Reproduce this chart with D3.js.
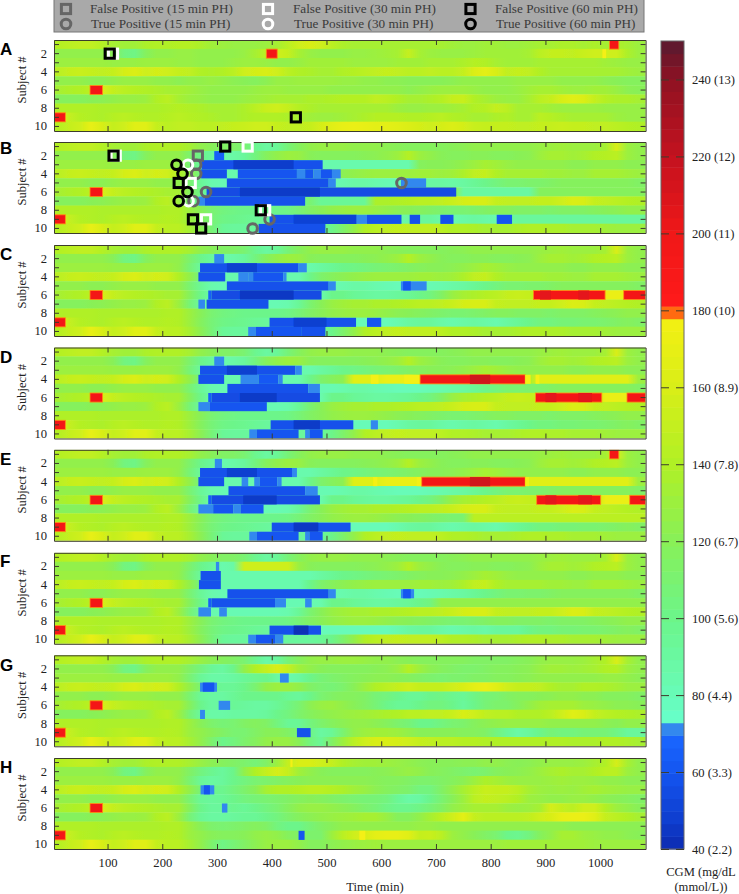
<!DOCTYPE html>
<html>
<head>
<meta charset="utf-8">
<style>
  html, body { margin: 0; padding: 0; background: #fff; }
  svg { display: block; }
  text { font-family: "Liberation Serif", serif; fill: #222; }
  .letter { font-family: "Liberation Sans", sans-serif; font-weight: bold; font-size: 17px; fill: #000; }
  .axis path, .axis line { stroke: #3c3c2c; }
  .axis text { font-size: 12.6px; }
</style>
<script src="https://cdn.jsdelivr.net/npm/d3@7"></script>
</head>
<body>
<div id="chart"></div>
<script>
// ---- data ----------------------------------------------------------------
var panelNames = ['A', 'B', 'C', 'D', 'E', 'F', 'G', 'H'];
var subjects = [1, 2, 3, 4, 5, 6, 7, 8, 9, 10];
var timeTicks = [100, 200, 300, 400, 500, 600, 700, 800, 900, 1000];
var colorTicks = [40, 60, 80, 100, 120, 140, 160, 180, 200, 220, 240];
var colorTickLabels = ['40 (2.2)', '60 (3.3)', '80 (4.4)', '100 (5.6)', '120 (6.7)', '140 (7.8)', '160 (8.9)', '180 (10)', '200 (11)', '220 (12)', '240 (13)'];

var colorStops = [40, 48, 60, 69, 69.01, 72.4, 72.41, 80, 100, 120, 140, 160, 178, 178.01, 181, 181.01, 200, 220, 240, 250];
var colorValues = ['#0d2bb0', '#0f3fd0', '#1455f0', '#1a66ff', '#3388ee', '#3388ee', '#66ffcc', '#68fbb8', '#6cf58a', '#88f058', '#b0f025', '#d8ee18', '#f4f012', '#ff6a10', '#ff6a10', '#ff1a1a', '#f01818', '#c4121f', '#8f1222', '#581a30'];

// CGM per subject, one value every 20 min: t = 0..200, the same in every panel
var early = [
  [142, 145, 148, 148, 142, 135, 132, 132, 138, 140, 140],
  [125, 125, 125, 125, 125, 120, 105, 102, 118, 125, 125],
  [130, 130, 130, 130, 130, 128, 128, 128, 130, 130, 130],
  [145, 150, 152, 150, 148, 150, 158, 162, 155, 158, 155],
  [125, 125, 125, 122, 122, 125, 128, 128, 128, 125, 125],
  [135, 138, 140, 145, 160, 150, 145, 142, 140, 138, 135],
  [118, 118, 118, 120, 122, 125, 128, 128, 130, 140, 145],
  [140, 140, 140, 140, 138, 138, 138, 138, 138, 138, 140],
  [170, 150, 142, 140, 138, 142, 145, 142, 140, 140, 142],
  [142, 150, 155, 170, 160, 150, 155, 165, 165, 150, 145]
];

// t = 220..1060, panel A
var tailA = [
  [142, 142, 138, 132, 130, 128, 128, 128, 130, 135, 145, 155, 160, 155, 145, 138, 135, 135, 135, 135, 135, 135, 135, 135, 135, 132, 130, 130, 132, 132, 130, 130, 132, 135, 135, 138, 138, 135, 138, 135, 138, 135, 130],
  [128, 128, 125, 125, 125, 125, 128, 135, 145, 155, 150, 135, 128, 125, 125, 125, 128, 128, 130, 132, 135, 150, 135, 130, 128, 128, 128, 130, 132, 132, 132, 132, 135, 145, 150, 150, 148, 152, 155, 155, 155, 138, 130],
  [128, 128, 125, 125, 125, 128, 130, 130, 128, 125, 125, 128, 132, 132, 132, 132, 130, 130, 130, 130, 132, 132, 132, 135, 135, 135, 138, 142, 140, 135, 132, 132, 132, 135, 135, 135, 135, 135, 135, 132, 130, 128, 128],
  [150, 148, 140, 138, 140, 145, 155, 158, 160, 155, 145, 140, 138, 135, 135, 140, 142, 145, 148, 150, 148, 145, 145, 148, 145, 145, 150, 162, 168, 160, 148, 150, 148, 140, 135, 135, 135, 135, 135, 135, 135, 132, 130],
  [122, 125, 125, 128, 125, 122, 120, 118, 122, 128, 128, 130, 130, 130, 130, 128, 128, 125, 125, 122, 122, 120, 120, 120, 120, 122, 125, 125, 125, 125, 125, 128, 128, 128, 128, 125, 125, 125, 125, 122, 120, 118, 118],
  [135, 132, 128, 125, 125, 125, 125, 128, 130, 130, 128, 128, 128, 128, 125, 125, 125, 125, 125, 125, 125, 122, 125, 128, 130, 130, 130, 128, 125, 125, 125, 128, 132, 135, 135, 132, 130, 130, 132, 132, 128, 122, 120],
  [135, 130, 128, 125, 125, 125, 128, 130, 132, 135, 135, 135, 138, 138, 140, 142, 142, 142, 148, 145, 140, 135, 135, 138, 142, 150, 152, 140, 135, 130, 128, 128, 135, 145, 150, 160, 165, 162, 150, 142, 138, 138, 135],
  [142, 140, 138, 135, 135, 135, 138, 145, 152, 155, 150, 142, 138, 135, 135, 135, 135, 135, 135, 135, 130, 128, 128, 130, 130, 132, 135, 140, 142, 150, 145, 135, 135, 135, 132, 130, 130, 130, 130, 128, 128, 128, 128],
  [145, 142, 140, 138, 135, 135, 138, 140, 140, 140, 138, 135, 132, 130, 130, 132, 135, 138, 142, 142, 142, 140, 140, 142, 145, 140, 138, 135, 135, 138, 140, 135, 135, 145, 142, 138, 135, 135, 135, 135, 130, 128, 128],
  [148, 148, 145, 145, 148, 150, 152, 155, 155, 150, 148, 148, 150, 158, 165, 170, 172, 170, 168, 168, 165, 162, 158, 155, 158, 162, 158, 152, 150, 150, 150, 148, 148, 150, 150, 152, 150, 150, 148, 148, 145, 142, 140]
];

// t = 220..1060, panels B to F
var tailC = [
  [140, 135, 125, 120, 115, 115, 110, 98, 90, 95, 108, 118, 125, 128, 128, 128, 125, 125, 125, 122, 120, 118, 118, 118, 118, 120, 122, 125, 125, 125, 125, 125, 125, 128, 130, 132, 130, 130, 130, 135, 160, 130, 125],
  [125, 112, 100, 92, 85, 88, 92, 105, 118, 125, 130, 128, 120, 118, 118, 118, 118, 120, 122, 125, 130, 142, 130, 125, 120, 118, 118, 120, 120, 118, 118, 120, 122, 130, 135, 135, 132, 135, 140, 142, 145, 130, 125],
  [125, 108, 92, 85, 85, 85, 85, 85, 85, 85, 85, 85, 85, 90, 95, 100, 102, 105, 108, 110, 112, 115, 118, 120, 120, 122, 125, 130, 135, 132, 128, 125, 125, 125, 125, 125, 122, 122, 125, 125, 125, 122, 122],
  [140, 125, 105, 92, 85, 85, 85, 85, 85, 85, 85, 85, 100, 112, 118, 122, 125, 128, 130, 130, 130, 130, 132, 132, 130, 132, 138, 148, 150, 140, 135, 135, 135, 135, 132, 132, 130, 130, 135, 135, 135, 132, 130],
  [125, 110, 95, 85, 82, 82, 82, 82, 82, 82, 82, 82, 82, 82, 82, 85, 88, 88, 85, 82, 80, 80, 80, 82, 85, 88, 90, 95, 100, 105, 110, 110, 112, 112, 115, 118, 118, 118, 118, 118, 118, 118, 115],
  [135, 118, 100, 88, 82, 82, 82, 82, 82, 82, 82, 82, 82, 85, 100, 100, 95, 92, 90, 90, 92, 95, 100, 105, 115, 128, 135, 138, 142, 145, 150, 152, 150, 150, 150, 150, 150, 150, 150, 150, 150, 150, 150],
  [130, 108, 92, 85, 82, 82, 82, 82, 82, 82, 85, 95, 110, 120, 128, 132, 135, 135, 138, 138, 140, 142, 145, 145, 148, 152, 158, 160, 160, 150, 148, 148, 148, 150, 150, 155, 162, 160, 150, 148, 145, 142, 140],
  [140, 130, 120, 110, 105, 102, 100, 100, 100, 100, 102, 108, 115, 120, 125, 128, 130, 130, 128, 125, 122, 120, 118, 115, 112, 110, 110, 112, 115, 118, 118, 115, 115, 115, 112, 115, 115, 115, 118, 120, 122, 125, 125],
  [140, 130, 118, 108, 102, 100, 98, 95, 92, 90, 88, 85, 82, 80, 80, 80, 80, 80, 80, 80, 85, 90, 92, 92, 88, 85, 88, 90, 88, 85, 90, 95, 100, 105, 105, 108, 108, 110, 110, 112, 115, 118, 115],
  [145, 135, 122, 108, 95, 92, 92, 92, 92, 92, 92, 92, 92, 95, 100, 112, 125, 140, 145, 148, 150, 148, 148, 148, 145, 140, 140, 138, 135, 135, 135, 138, 140, 140, 138, 138, 135, 135, 135, 132, 130, 130, 130]
];

// t = 220..1060, panel G
var tailG = [
  [140, 135, 128, 122, 118, 115, 110, 98, 88, 92, 108, 118, 125, 128, 128, 130, 130, 128, 125, 125, 122, 120, 118, 118, 118, 118, 118, 115, 115, 115, 115, 118, 120, 125, 128, 128, 128, 130, 135, 140, 160, 135, 125],
  [125, 115, 105, 95, 90, 100, 125, 140, 150, 160, 150, 132, 125, 120, 118, 118, 118, 118, 120, 122, 128, 142, 130, 122, 118, 115, 112, 112, 115, 118, 118, 120, 122, 128, 132, 132, 130, 132, 135, 140, 142, 130, 125],
  [125, 110, 95, 88, 88, 90, 95, 98, 100, 90, 85, 90, 100, 108, 112, 115, 118, 120, 122, 122, 120, 118, 115, 112, 110, 112, 112, 115, 115, 118, 118, 120, 122, 125, 125, 125, 125, 125, 125, 128, 128, 125, 122],
  [140, 125, 110, 100, 95, 95, 100, 110, 125, 130, 130, 125, 115, 110, 108, 112, 120, 130, 140, 145, 150, 155, 150, 150, 150, 155, 160, 168, 172, 165, 155, 150, 150, 148, 140, 135, 135, 140, 140, 138, 135, 130, 130],
  [125, 110, 95, 90, 90, 95, 100, 100, 100, 100, 95, 92, 100, 110, 115, 118, 118, 115, 108, 105, 100, 95, 95, 100, 102, 98, 95, 102, 108, 110, 115, 118, 118, 120, 122, 125, 125, 122, 122, 118, 118, 118, 115],
  [135, 118, 100, 90, 90, 95, 92, 90, 90, 95, 102, 110, 122, 128, 130, 125, 120, 115, 108, 100, 95, 95, 100, 105, 105, 100, 92, 100, 108, 112, 112, 118, 125, 132, 135, 135, 135, 130, 128, 125, 122, 122, 120],
  [130, 108, 92, 88, 88, 90, 90, 90, 92, 100, 105, 112, 118, 122, 125, 128, 130, 132, 135, 138, 140, 145, 145, 148, 148, 152, 160, 155, 148, 145, 145, 140, 140, 140, 145, 155, 165, 160, 150, 145, 142, 140, 138],
  [140, 130, 120, 112, 108, 110, 115, 118, 115, 105, 95, 95, 105, 112, 118, 122, 125, 125, 122, 118, 112, 108, 100, 100, 105, 110, 112, 118, 122, 125, 128, 128, 128, 128, 125, 125, 125, 125, 125, 122, 120, 125, 125],
  [140, 130, 125, 120, 115, 110, 110, 115, 120, 120, 115, 108, 102, 90, 95, 110, 125, 130, 132, 132, 130, 125, 120, 120, 120, 120, 118, 118, 115, 105, 95, 88, 92, 100, 108, 105, 105, 108, 108, 108, 102, 92, 92],
  [145, 135, 125, 112, 100, 105, 112, 118, 125, 128, 128, 120, 105, 95, 115, 130, 145, 155, 160, 160, 158, 155, 150, 148, 145, 145, 142, 142, 140, 140, 140, 140, 140, 140, 140, 140, 138, 138, 138, 140, 140, 138, 135]
];

// t = 220..1060, panel H
var tailH = [
  [140, 135, 128, 122, 118, 115, 112, 108, 115, 130, 150, 160, 160, 155, 150, 140, 135, 132, 132, 130, 128, 125, 122, 120, 120, 120, 122, 122, 125, 125, 122, 120, 122, 125, 128, 128, 128, 130, 135, 140, 158, 135, 125],
  [125, 115, 105, 98, 92, 100, 125, 140, 150, 158, 150, 132, 125, 120, 118, 118, 118, 118, 120, 122, 125, 128, 125, 120, 118, 115, 112, 110, 112, 118, 120, 122, 125, 130, 135, 138, 135, 135, 140, 145, 145, 130, 125],
  [125, 110, 95, 90, 92, 100, 105, 110, 112, 115, 118, 120, 122, 122, 122, 122, 122, 122, 120, 118, 118, 115, 112, 112, 115, 118, 122, 130, 138, 135, 130, 128, 128, 128, 130, 132, 130, 130, 128, 125, 125, 122, 122],
  [140, 125, 108, 100, 98, 105, 112, 120, 135, 140, 140, 142, 145, 145, 142, 138, 132, 128, 122, 118, 115, 112, 105, 105, 115, 125, 135, 145, 152, 150, 150, 145, 135, 130, 128, 130, 128, 132, 135, 132, 130, 128, 128],
  [125, 110, 95, 92, 95, 100, 105, 108, 110, 112, 115, 118, 120, 118, 115, 112, 110, 108, 108, 105, 95, 88, 90, 100, 110, 120, 130, 145, 150, 148, 145, 140, 130, 128, 125, 125, 128, 128, 125, 122, 120, 118, 115],
  [135, 118, 100, 92, 92, 98, 95, 100, 105, 110, 118, 125, 128, 128, 125, 122, 118, 112, 108, 102, 98, 98, 102, 108, 115, 125, 130, 135, 135, 135, 130, 128, 130, 135, 158, 150, 145, 155, 155, 140, 130, 125, 120],
  [130, 108, 95, 90, 90, 92, 95, 95, 100, 105, 112, 118, 122, 125, 128, 130, 132, 135, 135, 128, 118, 118, 125, 135, 145, 155, 168, 150, 145, 145, 145, 145, 148, 155, 160, 170, 172, 172, 165, 150, 145, 140, 135],
  [140, 130, 120, 112, 110, 112, 115, 118, 115, 105, 100, 100, 108, 115, 120, 125, 125, 125, 125, 125, 125, 125, 128, 128, 125, 125, 125, 125, 125, 125, 125, 125, 125, 125, 125, 125, 122, 122, 122, 122, 122, 122, 122],
  [140, 130, 125, 120, 118, 118, 120, 125, 128, 125, 118, 115, 112, 112, 130, 145, 155, 160, 168, 170, 170, 165, 150, 152, 145, 130, 125, 120, 115, 110, 100, 98, 105, 118, 125, 135, 135, 130, 128, 125, 125, 122, 120],
  [145, 135, 125, 112, 102, 108, 115, 122, 128, 130, 130, 125, 118, 118, 122, 125, 128, 130, 132, 130, 130, 130, 130, 130, 130, 130, 130, 130, 130, 130, 132, 132, 132, 132, 132, 132, 132, 132, 130, 130, 130, 130, 130]
];

// smooth changes to a tail: [subject, from, to, value]
var softB = [[6, 740, 860, 90], [6, 880, 1060, 118], [9, 840, 1060, 92], [5, 640, 700, 90], [3, 480, 640, 85], [7, 480, 560, 95]];
var softC = [[6, 1000, 1040, 172]];
var softD = [[4, 540, 580, 165], [4, 600, 640, 172], [4, 880, 1040, 165], [6, 1000, 1040, 172]];
var softE = [[4, 540, 580, 165], [4, 600, 660, 172], [4, 860, 1040, 165], [6, 1000, 1040, 172], [8, 760, 1060, 145]];
var softF = [[2, 340, 420, 155], [6, 700, 1060, 125], [9, 800, 840, 92]];

// hard edged runs: [subject, start min, end min, value]
var spikes = [[6, 68, 91, 195], [9, 2, 23, 195]];
var blocksA = [[2, 390, 410, 195], [1, 1017, 1034, 195], [2, 1004, 1011, 178]];
var blocksB = [
  [2, 295, 313, 65], [3, 272, 493, 58], [3, 330, 440, 47], [4, 271, 318, 58], [4, 338, 446, 60], [4, 446, 461, 70], [4, 461, 476, 60], [4, 476, 490, 70], [4, 490, 510, 60], [4, 510, 526, 70],
  [5, 318, 504, 58], [5, 504, 517, 70], [5, 636, 682, 70], [6, 281, 737, 55], [6, 342, 488, 46], [7, 266, 278, 70], [7, 278, 461, 58],
  [9, 396, 555, 58], [9, 440, 555, 50], [9, 555, 574, 70], [9, 574, 637, 58], [9, 652, 671, 58], [9, 708, 732, 58], [9, 811, 839, 60], [10, 376, 498, 58]
];
var blocksC = [
  [2, 295, 313, 71], [3, 269, 449, 58], [3, 318, 373, 48], [3, 449, 464, 71], [4, 266, 315, 58], [4, 339, 357, 70], [4, 357, 366, 71], [4, 366, 421, 60], [4, 421, 427, 71],
  [5, 318, 504, 58], [5, 504, 517, 71], [5, 636, 683, 70], [5, 640, 654, 60], [6, 284, 290, 65], [6, 290, 491, 55], [6, 342, 440, 45], [7, 266, 278, 70], [7, 281, 394, 58],
  [9, 396, 554, 58], [9, 440, 500, 48], [9, 574, 600, 60], [10, 357, 371, 70], [10, 371, 455, 60], [10, 455, 498, 58],
  [6, 878, 1009, 195], [6, 890, 910, 205], [6, 960, 980, 205], [6, 1043, 1083, 195]
];
var blocksD = [
  [2, 295, 313, 71], [3, 269, 443, 58], [3, 318, 373, 48], [3, 443, 455, 71], [4, 266, 313, 58], [4, 343, 376, 71], [4, 376, 412, 62], [4, 412, 420, 71],
  [5, 319, 467, 58], [5, 467, 488, 71], [6, 284, 290, 65], [6, 290, 488, 55], [6, 342, 409, 46], [7, 266, 287, 70], [7, 287, 391, 60],
  [9, 398, 549, 58], [9, 440, 488, 46], [9, 581, 594, 70], [10, 359, 373, 70], [10, 373, 449, 60], [10, 461, 469, 70], [10, 469, 493, 60],
  [4, 581, 595, 178], [4, 642, 671, 178], [4, 671, 863, 195], [4, 762, 799, 215], [4, 863, 873, 178], [4, 882, 889, 178], [6, 882, 1003, 195], [6, 900, 920, 205], [6, 960, 985, 205], [6, 1049, 1083, 195]
];
var blocksE = [
  [2, 296, 309, 71], [3, 269, 437, 58], [3, 318, 373, 48], [3, 437, 446, 71], [4, 266, 313, 58], [4, 345, 357, 70], [4, 368, 378, 71], [4, 378, 410, 60], [4, 410, 418, 71],
  [5, 321, 461, 58], [5, 461, 484, 71], [6, 284, 290, 65], [6, 290, 488, 55], [6, 348, 409, 46], [7, 266, 293, 71], [7, 293, 330, 60], [7, 330, 343, 71], [7, 343, 385, 60],
  [9, 400, 544, 58], [9, 440, 485, 45], [10, 359, 373, 70], [10, 373, 449, 60], [10, 461, 469, 70], [10, 469, 493, 60],
  [1, 1017, 1034, 195], [4, 585, 593, 178], [4, 665, 674, 178], [4, 674, 863, 195], [4, 762, 799, 215], [4, 863, 870, 178], [6, 884, 1001, 195], [6, 900, 920, 205], [6, 960, 985, 205], [6, 1054, 1083, 195]
];
var blocksF = [
  [2, 298, 304, 70], [3, 270, 307, 58], [4, 267, 307, 58], [5, 319, 504, 58], [5, 504, 517, 71], [5, 636, 660, 70], [5, 640, 654, 60],
  [6, 284, 290, 65], [6, 290, 406, 58], [6, 406, 426, 71], [6, 461, 473, 70], [7, 266, 289, 71], [7, 304, 318, 70],
  [9, 396, 490, 58], [9, 440, 467, 42], [10, 357, 371, 70], [10, 371, 406, 60], [10, 406, 421, 70]
];
var blocksG = [[3, 415, 431, 71], [4, 269, 300, 70], [4, 274, 295, 60], [6, 303, 324, 70], [7, 269, 278, 70], [9, 446, 471, 58]];
var blocksH = [[1, 434, 438, 178], [4, 270, 295, 70], [4, 276, 287, 60], [6, 309, 319, 70], [9, 449, 460, 60], [9, 560, 571, 178]];

// warning markers: [time, subject]
var fp15B = [[265, 2]];
var tp15B = [[262, 3], [262, 4], [280, 6], [257, 7], [396, 9], [365, 10], [637, 5]];
var fp30A = [[110, 2]];
var fp30B = [[115, 2], [356, 1], [252, 5], [388, 8], [280, 9]];
var tp30B = [[247, 3], [248, 7]];
var fp60A = [[104, 2], [444, 9]];
var fp60B = [[111, 2], [315, 1], [230, 5], [380, 8], [256, 9], [271, 10]];
var tp60B = [[226, 3], [237, 4], [246, 6], [230, 7]];

var legendLabels = [
  ['False Positive (15 min PH)', 'False Positive (30 min PH)', 'False Positive (60 min PH)'],
  ['True Positive (15 min PH)', 'True Positive (30 min PH)', 'True Positive (60 min PH)']
];
var legendColors = ['#666666', '#ffffff', '#000000'];

// ---- layout --------------------------------------------------------------
var width = 739, height = 894;
var plotLeft = 54, plotRight = 645.6, rowsHeight = 91;
var panelTops = [40, 142, 245, 347.5, 449.8, 552.8, 655.3, 758];
var letterOffsets = [15, 11.5, 15, 15, 15.5, 14, 16, 15];

var allTimes = d3.range(0, 1061, 20);

var x = d3.scaleLinear().domain([2.2, 1083]).range([plotLeft, plotRight]);
var color = d3.scaleLinear().domain(colorStops).range(colorValues).clamp(true);
var colorY = d3.scaleLinear().domain([40, 250]).range([849, 41]);

var svg = d3.select('#chart').append('svg').attr('width', width).attr('height', height);
var defs = svg.append('defs');
defs.append('filter').attr('id', 'soft').attr('x', '-1%').attr('y', '-5%').attr('width', '102%').attr('height', '110%')
  .append('feGaussianBlur').attr('stdDeviation', 0.45);

function buildRows(tail, soft) {
  return subjects.map(function(s, i) {
    var row = early[i].concat(tail[i]);
    (soft || []).forEach(function(p) {
      if (p[0] !== s) return;
      allTimes.forEach(function(t, j) {
        if (t >= p[1] && t <= p[2]) row[j] = p[3];
      });
    });
    return row;
  });
}

var panels = [
  { rows: buildRows(tailA), blocks: blocksA },
  { rows: buildRows(tailC, softB), blocks: blocksB },
  { rows: buildRows(tailC, softC), blocks: blocksC },
  { rows: buildRows(tailC, softD), blocks: blocksD },
  { rows: buildRows(tailC, softE), blocks: blocksE },
  { rows: buildRows(tailC, softF), blocks: blocksF },
  { rows: buildRows(tailG), blocks: blocksG },
  { rows: buildRows(tailH), blocks: blocksH }
];

function drawPanel(panel, i) {
  var top = panelTops[i];
  var y = d3.scaleBand().domain(subjects).range([top, top + rowsHeight]);
  var g = svg.append('g');

  defs.append('clipPath').attr('id', 'clip' + i).append('rect')
    .attr('x', plotLeft).attr('y', top).attr('width', plotRight - plotLeft).attr('height', rowsHeight);

  var heat = g.append('g').attr('clip-path', 'url(#clip' + i + ')').append('g').attr('filter', 'url(#soft)');

  // one gradient strip for each subject
  panel.rows.forEach(function(row, r) {
    var id = 'grad' + i + '_' + r;
    var grad = defs.append('linearGradient').attr('id', id).attr('gradientUnits', 'userSpaceOnUse')
      .attr('x1', x(0)).attr('x2', x(1080)).attr('y1', 0).attr('y2', 0);
    grad.selectAll('stop').data(row).join('stop')
      .attr('offset', function(d, j) { return (allTimes[j] + 10) / 1080; })
      .attr('stop-color', function(d) { return color(d); });
    heat.append('rect')
      .attr('x', plotLeft - 2).attr('y', y(subjects[r]) - 0.2)
      .attr('width', plotRight - plotLeft + 4).attr('height', y.bandwidth() + 0.4)
      .attr('fill', 'url(#' + id + ')');
  });

  heat.selectAll('rect.block').data(spikes.concat(panel.blocks)).join('rect')
    .attr('class', 'block')
    .attr('x', function(d) { return x(d[1]); })
    .attr('y', function(d) { return y(d[0]); })
    .attr('width', function(d) { return x(d[2]) - x(d[1]); })
    .attr('height', y.bandwidth())
    .attr('fill', function(d) { return color(d[3]); })
    .attr('stroke', function(d) { return d[3] === 195 ? '#ff8c12' : 'none'; })
    .attr('stroke-width', 0.8);

  var isLast = i === panelNames.length - 1;
  var bottomAxis = d3.axisBottom(x).tickValues(timeTicks).tickSize(-5).tickSizeOuter(0).tickPadding(9).tickFormat(d3.format('d'));
  if (!isLast) bottomAxis.tickFormat('');
  g.append('g').attr('class', 'axis').attr('transform', 'translate(0,' + (top + rowsHeight) + ')').call(bottomAxis);
  g.append('g').attr('class', 'axis').attr('transform', 'translate(0,' + top + ')')
    .call(d3.axisTop(x).tickValues(timeTicks).tickSize(-5).tickSizeOuter(0).tickFormat(''));
  g.append('g').attr('class', 'axis').attr('transform', 'translate(' + plotLeft + ',0)')
    .call(d3.axisLeft(y).tickSize(-5).tickSizeOuter(0).tickPadding(7)
      .tickFormat(function(d) { return d % 2 === 0 ? d : ''; }));
  g.append('g').attr('class', 'axis').attr('transform', 'translate(' + plotRight + ',0)')
    .call(d3.axisRight(y).tickSize(-5).tickSizeOuter(0).tickFormat(''));

  g.append('text').attr('class', 'letter').attr('x', 0).attr('y', top + letterOffsets[i]).text(panelNames[i]);
  g.append('text').attr('transform', 'translate(26,' + (top + 40) + ') rotate(-90)')
    .attr('text-anchor', 'middle').attr('font-size', 12.6).text('Subject #');
  return y;
}

var yScales = panels.map(drawPanel);

// ---- markers -------------------------------------------------------------
function drawMarker(parent, kind, cx, cy, col) {
  if (kind === 'square') {
    parent.append('rect').attr('x', cx - 4.6).attr('y', cy - 4.6).attr('width', 9.2).attr('height', 9.2)
      .attr('fill', 'none').attr('stroke', col).attr('stroke-width', 3);
  } else {
    parent.append('circle').attr('cx', cx).attr('cy', cy).attr('r', 4.8)
      .attr('fill', 'none').attr('stroke', col).attr('stroke-width', 3);
  }
}

function drawMarkers(list, panelIndex, kind, col) {
  var y = yScales[panelIndex];
  var g = svg.append('g');
  list.forEach(function(m) {
    drawMarker(g, kind, x(m[0]), y(m[1]) + y.bandwidth() / 2, col);
  });
}

drawMarkers(fp30A, 0, 'square', legendColors[1]);
drawMarkers(fp60A, 0, 'square', legendColors[2]);
drawMarkers(tp15B, 1, 'circle', legendColors[0]);
drawMarkers(fp15B, 1, 'square', legendColors[0]);
drawMarkers(tp30B, 1, 'circle', legendColors[1]);
drawMarkers(fp30B, 1, 'square', legendColors[1]);
drawMarkers(tp60B, 1, 'circle', legendColors[2]);
drawMarkers(fp60B, 1, 'square', legendColors[2]);

// ---- legend --------------------------------------------------------------
var legend = svg.append('g');
legend.append('rect').attr('x', 54).attr('y', -1).attr('width', 590).attr('height', 33)
  .attr('fill', '#a9a9a9').attr('stroke', '#777');
var legendMarkerX = [66, 268, 470.5];
var legendTextX = [[90, 293, 495], [91, 294, 496]];
var legendRowY = [9, 24];
legendLabels.forEach(function(labels, r) {
  labels.forEach(function(label, c) {
    drawMarker(legend, r === 0 ? 'square' : 'circle', legendMarkerX[c], legendRowY[r], legendColors[c]);
    legend.append('text').attr('x', legendTextX[r][c]).attr('y', legendRowY[r]).attr('dy', '.33em')
      .attr('font-size', 13.2).style('fill', '#3a3a3a').text(label);
  });
});

// ---- colour bar ----------------------------------------------------------
var barLeft = 661, barRight = 684;
var barSteps = d3.range(40, 250, 210 / 64);
var bar = svg.append('g');
bar.selectAll('rect').data(barSteps).join('rect')
  .attr('x', barLeft).attr('width', barRight - barLeft)
  .attr('y', function(d) { return colorY(d + 210 / 64); })
  .attr('height', colorY(40) - colorY(40 + 210 / 64) + 0.5)
  .attr('fill', function(d) { return color(d + 105 / 64); });
bar.append('rect').attr('x', barLeft).attr('y', 41).attr('width', barRight - barLeft).attr('height', 808)
  .attr('fill', 'none').attr('stroke', '#666');
bar.append('g').attr('class', 'axis').attr('transform', 'translate(' + barLeft + ',0)')
  .call(d3.axisLeft(colorY).tickValues(colorTicks).tickSize(-8).tickSizeOuter(0).tickFormat(''));
bar.append('g').attr('class', 'axis').attr('transform', 'translate(' + barRight + ',0)')
  .call(d3.axisRight(colorY).tickValues(colorTicks).tickSize(-8).tickSizeOuter(0).tickPadding(8)
    .tickFormat(function(d, i) { return colorTickLabels[i]; }));
bar.selectAll('.domain').remove();

svg.append('text').attr('x', 701).attr('y', 876).attr('text-anchor', 'middle').attr('font-size', 12.6).text('CGM (mg/dL');
svg.append('text').attr('x', 701).attr('y', 891).attr('text-anchor', 'middle').attr('font-size', 12.6).text('(mmol/L))');
svg.append('text').attr('x', 375).attr('y', 891).attr('text-anchor', 'middle').attr('font-size', 12.6).text('Time (min)');
</script>
</body>
</html>
